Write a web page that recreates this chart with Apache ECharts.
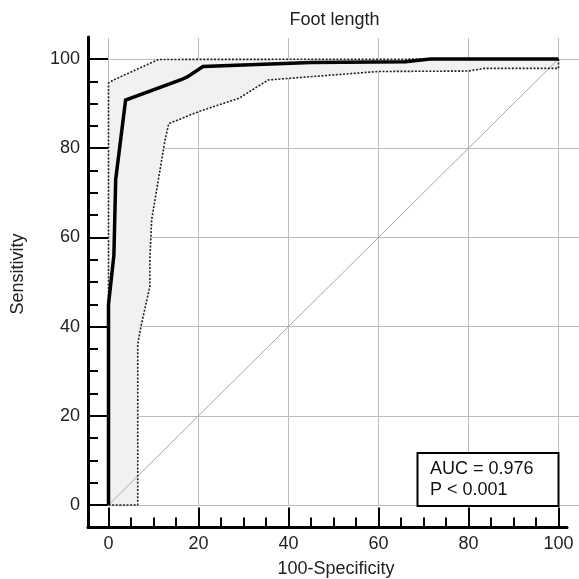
<!DOCTYPE html>
<html><head><meta charset="utf-8">
<script src="https://cdn.jsdelivr.net/npm/echarts@6/dist/echarts.min.js"></script>
<style>html,body{margin:0;padding:0;background:#fff}#c{width:579px;height:579px}</style>
</head><body><div id="c"></div>
<script>
// ---- data ----
const rocCurve = [[0,0],[0,45],[1.2,56],[1.6,73],[3.8,90.8],[16,95.3],[17.5,96],[21,98.3],[45,99.2],[66,99.4],[71.5,100],[100,100]];
const upperCI = [[0,0],[0,94.6],[1.1,95.3],[11.1,99.9],[100,100]];
const lowerCI = [[0,0],[6.5,0],[6.5,36],[7.2,40],[9.2,49],[9.2,55],[9.6,64],[12.6,82],[13.4,85.5],[20,88.2],[29,91.2],[35.5,95.3],[60,97.2],[80,97.3],[83.5,97.9],[100,97.9],[100,100]];
const diagonal = [[0,0],[100,100]];
const majorTicks = [0,20,40,60,80,100];
const minorTicks = [5,10,15,25,30,35,45,50,55,65,70,75,85,90,95];
const titleText = 'Foot length';
const xName = '100-Specificity';
const yName = 'Sensitivity';
const statLines = ['AUC = 0.976','P < 0.001'];

const band = upperCI.concat(lowerCI.slice().reverse());
const FONT = '"Liberation Sans", Arial, sans-serif';

const chart = echarts.init(document.getElementById('c'), null, {renderer:'canvas'});

function frameAxis(dim, minor){
  const isX = dim === 'x';
  return {
    type:'value', gridIndex:0,
    min: isX ? -4.556 : -5.04, max: isX ? 101.89 : 104.93,
    position: isX ? 'bottom' : 'left',
    axisLine:{show:!minor, onZero:false, lineStyle:{color:'#000', width:3}},
    axisTick:{show:true, inside:true, length: minor ? 10 : 20, lineStyle:{color:'#000', width:2},
      customValues: minor ? minorTicks : majorTicks},
    axisLabel:{show:!minor, customValues: majorTicks, margin:8, fontSize:18, color:'#222', fontFamily:FONT},
    splitLine:{show:false}
  };
}
function plotAxis(dim){
  const isX = dim === 'x';
  return {
    type:'value', gridIndex:1, min:0, max: isX ? 104.56 : 104.71, interval:20,
    axisLine:{show:false, onZero:false}, axisTick:{show:false}, axisLabel:{show:false},
    splitLine:{show:true, showMinLine:true, showMaxLine:false, lineStyle:{color:'#bcbcbc', width:1}}
  };
}

const option = {
  animation:false,
  backgroundColor:'#fff',
  grid:[
    {left:88, right:12, top:37, bottom:51.5, outerBoundsMode:'none', containLabel:false},
    {left:108.5, right:0, top:38, bottom:74, outerBoundsMode:'none', containLabel:false}
  ],
  xAxis:[frameAxis('x',false), frameAxis('x',true), plotAxis('x')],
  yAxis:[frameAxis('y',false), frameAxis('y',true), plotAxis('y')],
  series:[
    {type:'custom', xAxisIndex:2, yAxisIndex:2, data:[[0,0]], silent:true, clip:false, z:1,
      renderItem:(params, api)=>({type:'polygon', shape:{points: band.map(p=>api.coord(p))}, style:{fill:'#f1f1f1'}})},
    {type:'line', xAxisIndex:2, yAxisIndex:2, data:diagonal, symbol:'none', clip:false, z:2,
      lineStyle:{color:'#a8a8a8', width:1}},
    {type:'line', xAxisIndex:2, yAxisIndex:2, data:upperCI, symbol:'none', clip:false, z:3,
      lineStyle:{color:'#222', width:1.6, type:[2,1.6]}},
    {type:'line', xAxisIndex:2, yAxisIndex:2, data:lowerCI, symbol:'none', clip:false, z:3,
      lineStyle:{color:'#222', width:1.6, type:[2,1.6]}},
    {type:'line', xAxisIndex:2, yAxisIndex:2, data:rocCurve, symbol:'none', clip:false, z:4,
      lineStyle:{color:'#000', width:3.5, join:'miter'}}
  ],
  graphic:[
    {type:'text', x:334.5, y:20, style:{text:titleText, textAlign:'center', textVerticalAlign:'middle', fontSize:18, fontFamily:FONT, fill:'#222'}},
    {type:'text', x:336, y:569, style:{text:xName, textAlign:'center', textVerticalAlign:'middle', fontSize:18, fontFamily:FONT, fill:'#222'}},
    {type:'text', x:18.5, y:274, rotation:Math.PI/2, style:{text:yName, textAlign:'center', textVerticalAlign:'middle', fontSize:18, fontFamily:FONT, fill:'#222'}},
    {type:'rect', z:10, shape:{x:417.5, y:453, width:141, height:53}, style:{fill:'#fff', stroke:'#000', lineWidth:2}},
    {type:'text', z:11, x:430, y:469.5, style:{text:statLines[0], textVerticalAlign:'middle', fontSize:18, fontFamily:FONT, fill:'#111'}},
    {type:'text', z:11, x:430, y:490, style:{text:statLines[1], textVerticalAlign:'middle', fontSize:18, fontFamily:FONT, fill:'#111'}}
  ]
};
chart.setOption(option);
</script></body></html>
